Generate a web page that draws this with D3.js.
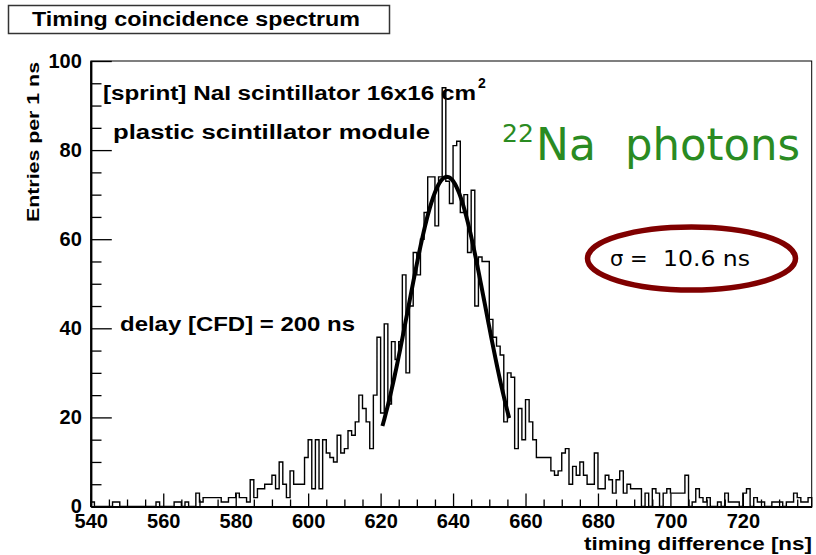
<!DOCTYPE html>
<html>
<head>
<meta charset="utf-8">
<script src="https://cdn.jsdelivr.net/npm/d3@7"></script>
<style>
  body { margin: 0; background: #fff; }
  svg { display: block; }
</style>
</head>
<body>
<div id="chart"></div>
<script>
// histogram: entries per 1 ns, first bin starts at 540 ns
const binStart = 540
const binWidth = 1
const counts = [
  1, 0, 0, 0, 0, 0, 1, 1, 0, 0,      // 540
  0, 0, 0, 0, 0, 0, 0, 0, 1, 0,      // 550
  0, 0, 0, 1, 1, 0, 1, 0, 0, 3,      // 560
  1, 2, 2, 2, 2, 2, 1, 1, 2, 2,      // 570
  3, 2, 2, 1, 6, 2, 4, 4, 5, 5,      // 580
  7, 4, 10, 5, 2, 8, 5, 5, 5, 11,    // 590
  15, 4, 15, 4, 15, 12, 11, 10, 16, 12, // 600
  13, 17, 16, 19, 25, 22, 19, 13, 25, 38, // 610
  21, 41, 23, 37, 33, 37, 52, 30, 45, 57, // 620
  52, 60, 66, 74, 74, 63, 74, 94, 73, 68, // 630
  81, 82, 66, 70, 57, 71, 45, 56, 55, 55, // 640
  42, 38, 36, 34, 19, 30, 29, 13, 22, 15, // 650
  24, 19, 15, 11, 11, 11, 11, 8, 7, 8,  // 660
  12, 13, 5, 9, 7, 10, 7, 5, 5, 12,     // 670
  4, 4, 7, 6, 3, 6, 8, 3, 5, 4,         // 680
  4, 4, 0, 3, 0, 4, 3, 0, 3, 4,         // 690
  3, 3, 3, 3, 7, 0, 1, 4, 2, 1,         // 700
  2, 0, 0, 1, 0, 3, 1, 1, 1, 0,         // 710
  3, 4, 0, 2, 1, 1, 0, 0, 1, 1,         // 720
  1, 0, 1, 1, 3, 2, 1, 1, 2             // 730
]

// gaussian fit shown on top of the peak
const fitConstant = 74
const fitMean = 638.3
const fitSigma = 10.6
const fitRange = [620.5, 655.5]

const xTickLabels = [540, 560, 580, 600, 620, 640, 660, 680, 700, 720]
const yTickLabels = [0, 20, 40, 60, 80, 100]

const W = 816, H = 555
let frame = { left: 90.8, right: 811.7, top: 61, bottom: 506.5 }

let svg = d3.select("#chart")
    .append("svg")
    .attr("width", W)
    .attr("height", H)

let x = d3.scaleLinear()
    .domain([binStart, binStart + counts.length * binWidth])
    .range([frame.left, frame.right])
let y = d3.scaleLinear()
    .domain([0, 100])
    .range([frame.bottom, frame.top])

const boldFont = "'Liberation Sans', Arial, Helvetica, sans-serif"
const roundFont = "'DejaVu Sans', Verdana, sans-serif"

// bold text stretched to the width it has in the picture
function boldText(tx, ty, size, len, str) {
    return svg.append("text")
        .attr("x", tx).attr("y", ty)
        .attr("textLength", len)
        .attr("lengthAdjust", "spacingAndGlyphs")
        .style("font-family", boldFont)
        .style("font-weight", "bold")
        .style("font-size", size + "px")
        .text(str)
}

// title box
svg.append("rect")
    .attr("x", 8.5).attr("y", 5.5)
    .attr("width", 381).attr("height", 28)
    .attr("fill", "#fff")
    .attr("stroke", "#333")
    .attr("stroke-width", 1.5)
boldText(32, 26, 20, 328, "Timing coincidence spectrum")

// frame
svg.append("rect")
    .attr("x", frame.left).attr("y", frame.top)
    .attr("width", frame.right - frame.left)
    .attr("height", frame.bottom - frame.top)
    .attr("fill", "none")
    .attr("stroke", "#000")
    .attr("stroke-width", 1)

// minor ticks (every 5)
let xMinor = d3.range(540, 740, 5).filter(v => v % 20 !== 0)
let yMinor = d3.range(0, 100, 5).filter(v => v % 20 !== 0)

svg.append("g")
    .attr("transform", "translate(0," + frame.bottom + ")")
    .call(d3.axisBottom(x).tickValues(xMinor).tickSize(-7).tickSizeOuter(0).tickFormat(""))
    .call(g => g.select(".domain").remove())
svg.append("g")
    .attr("transform", "translate(" + frame.left + ",0)")
    .call(d3.axisLeft(y).tickValues(yMinor).tickSize(-10.7).tickSizeOuter(0).tickFormat(""))
    .call(g => g.select(".domain").remove())

// major ticks and labels
let xAxis = svg.append("g")
    .attr("transform", "translate(0," + frame.bottom + ")")
    .call(d3.axisBottom(x).tickValues(xTickLabels).tickSize(-13).tickSizeOuter(0).tickPadding(6))
let yAxis = svg.append("g")
    .attr("transform", "translate(" + frame.left + ",0)")
    .call(d3.axisLeft(y).tickValues(yTickLabels).tickSize(-21).tickSizeOuter(0).tickPadding(9))

svg.selectAll(".tick line").attr("stroke", "#000").attr("stroke-width", 1.3)
svg.selectAll(".domain").attr("stroke", "#000").attr("stroke-width", 2.2)
xAxis.selectAll(".tick text")
    .style("font-family", boldFont)
    .style("font-weight", "bold")
    .style("font-size", "20px")
    .attr("fill", "#000")
    .attr("dy", "0.75em")
yAxis.selectAll(".tick text")
    .style("font-family", boldFont)
    .style("font-weight", "bold")
    .style("font-size", "20px")
    .attr("fill", "#000")

// axis titles
svg.append("text")
    .attr("transform", "translate(39," + (frame.top + 1) + ") rotate(-90)")
    .attr("text-anchor", "end")
    .attr("textLength", 160)
    .attr("lengthAdjust", "spacingAndGlyphs")
    .style("font-family", boldFont)
    .style("font-weight", "bold")
    .style("font-size", "17px")
    .text("Entries per 1 ns")
boldText(584, 550, 18, 228, "timing difference [ns]")

// histogram outline (steps)
let pts = [[x(binStart), y(0)]]
counts.forEach(function (c, i) {
    let x0 = binStart + i * binWidth
    pts.push([x(x0), y(c)])
    pts.push([x(x0 + binWidth), y(c)])
})
pts.push([x(binStart + counts.length * binWidth), y(0)])

svg.append("path")
    .attr("d", d3.line()(pts))
    .attr("fill", "none")
    .attr("stroke", "#000")
    .attr("stroke-width", 1.4)

// fit curve
let fitX = d3.range(fitRange[0], fitRange[1] + 0.001, 0.25)
svg.append("path")
    .datum(fitX)
    .attr("d", d3.line()
        .x(d => x(d))
        .y(d => y(fitConstant * Math.exp(-0.5 * Math.pow((d - fitMean) / fitSigma, 2)))))
    .attr("fill", "none")
    .attr("stroke", "#000")
    .attr("stroke-width", 4)

// annotations
boldText(103, 100, 20, 373, "[sprint] NaI scintillator 16x16 cm")
svg.append("text")
    .attr("x", 478).attr("y", 88)
    .style("font-family", boldFont)
    .style("font-weight", "bold")
    .style("font-size", "14px")
    .text("2")

boldText(113, 139, 20, 317, "plastic scintillator module")
boldText(120, 331, 20, 235, "delay [CFD] = 200 ns")

// 22Na photons (green label)
svg.append("text")
    .attr("x", 502).attr("y", 142)
    .attr("fill", "#2a8b22")
    .style("font-family", roundFont)
    .style("font-size", "25px")
    .text("22")
svg.append("text")
    .attr("x", 536).attr("y", 160)
    .attr("fill", "#2a8b22")
    .style("font-family", roundFont)
    .style("font-size", "44px")
    .text("Na")
svg.append("text")
    .attr("x", 625).attr("y", 160)
    .attr("fill", "#2a8b22")
    .attr("textLength", 175)
    .attr("lengthAdjust", "spacingAndGlyphs")
    .style("font-family", roundFont)
    .style("font-size", "44px")
    .text("photons")

svg.append("ellipse")
    .attr("cx", 691.5).attr("cy", 258.5)
    .attr("rx", 104).attr("ry", 31.5)
    .attr("fill", "none")
    .attr("stroke", "#800000")
    .attr("stroke-width", 5.5)

svg.append("text")
    .attr("x", 610).attr("y", 266)
    .style("font-family", roundFont)
    .style("font-size", "21px")
    .text("σ =")
svg.append("text")
    .attr("x", 663).attr("y", 266)
    .attr("textLength", 87)
    .attr("lengthAdjust", "spacingAndGlyphs")
    .style("font-family", roundFont)
    .style("font-size", "21px")
    .text("10.6 ns")
</script>
</body>
</html>
